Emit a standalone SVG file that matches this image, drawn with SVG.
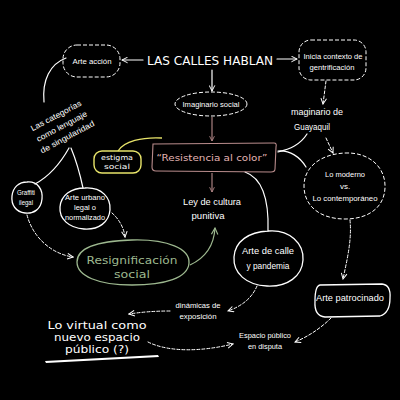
<svg xmlns="http://www.w3.org/2000/svg" width="400" height="400" viewBox="0 0 400 400">
<defs>
<style>
.t{font-family:"Liberation Sans",Arial,sans-serif;fill:#fff;text-anchor:middle}
.h{font-family:"DejaVu Sans","Liberation Sans",sans-serif;text-anchor:middle}
.w{fill:none;stroke:#fff;stroke-width:1.2;stroke-linecap:round}
.d{fill:none;stroke:#fff;stroke-width:1;stroke-dasharray:3 2;stroke-linecap:round}
.n{fill:none;stroke:#fff;stroke-width:1.3}
.nd{fill:none;stroke:#fff;stroke-width:1;stroke-dasharray:4 2}
.p{fill:none;stroke:#b98c8c;stroke-width:1.1}
</style>
<marker id="aw" viewBox="0 0 10 10" refX="9" refY="5" markerWidth="7" markerHeight="7" markerUnits="userSpaceOnUse" orient="auto"><path d="M1,1 L9,5 L1,9" fill="none" stroke="#fff" stroke-width="1.4"/></marker>
<marker id="ap" viewBox="0 0 10 10" refX="9" refY="5" markerWidth="6" markerHeight="6" markerUnits="userSpaceOnUse" orient="auto"><path d="M1,1 L9,5 L1,9" fill="none" stroke="#b98c8c" stroke-width="1.4"/></marker>
<marker id="ag" viewBox="0 0 10 10" refX="9" refY="5" markerWidth="8" markerHeight="8" markerUnits="userSpaceOnUse" orient="auto"><path d="M1,1 L9,5 L1,9" fill="none" stroke="#9db88f" stroke-width="1.4"/></marker>
</defs>
<rect width="400" height="400" fill="#000"/>

<g id="connectors">
<path class="w" d="M143,60 L122,60" stroke-width="1.4" marker-end="url(#aw)"/>
<path class="w" d="M277,59 L297,59" stroke-width="1.4" marker-end="url(#aw)"/>
<path class="w" d="M212,70 L212,91" stroke-width="1.3" marker-end="url(#aw)"/>
<path class="d" d="M326,81 L323,104" marker-end="url(#aw)"/>
<path class="p" d="M212,117 L212,141" marker-end="url(#ap)"/>
<path class="p" d="M212,173 L212,192" marker-end="url(#ap)"/>
<path fill="none" stroke="#e8e46a" stroke-width="1.3" d="M118,151 C124,141 142,137 162,138"/>
<path class="w" d="M307,134 C300,145 290,149 278,152"/>
<path class="w" d="M278,151 C290,150 300,157 306,167"/>
<path class="d" d="M326,138 L333,153" marker-end="url(#aw)"/>
<path class="d" d="M350,220 C352,240 347,260 343,279" marker-end="url(#aw)"/>
<path class="d" d="M331,318 C320,329 307,337 295,342" marker-end="url(#aw)"/>
<path class="w" d="M245,172 C262,178 269,200 268,231"/>
<path class="d" d="M257,286 C252,298 242,306 228,311" marker-end="url(#aw)"/>
<path class="d" d="M170,311 C155,311 142,312 129,314" marker-end="url(#aw)"/>
<path class="d" d="M148,342 C168,352 200,352 233,344" marker-end="url(#aw)"/>
<path class="w" d="M66,58 C50,64 42,80 44,102"/>
<path class="w" d="M69,148 C60,164 48,177 35,184"/>
<path class="w" d="M71,148 C76,160 80,174 83,188"/>
<path class="d" d="M27,215 C33,238 52,254 73,257" marker-end="url(#aw)"/>
<path class="d" d="M112,213 C119,219 124,228 125,237" marker-end="url(#aw)"/>
<path fill="none" stroke="#9db88f" stroke-width="1.2" d="M190,265 C205,258 214,246 215,228" marker-end="url(#ag)"/>
</g>

<g id="title"><text class="h" x="210" y="65" font-size="13" fill="#fff" textLength="126" lengthAdjust="spacingAndGlyphs">LAS CALLES HABLAN</text></g>

<g id="arte-accion">
<rect class="nd" x="63" y="45" width="57" height="32" rx="14"/>
<text class="t" x="92" y="64" font-size="8" textLength="39" lengthAdjust="spacingAndGlyphs">Arte acción</text>
</g>

<g id="inicia">
<rect class="nd" x="299" y="40" width="67" height="40" rx="12"/>
<text class="t" x="333" y="59" font-size="7" textLength="59" lengthAdjust="spacingAndGlyphs">Inicia contexto de</text>
<text class="t" x="332" y="70" font-size="7" textLength="45" lengthAdjust="spacingAndGlyphs">gentrificación</text>
</g>

<g id="imaginario-social">
<ellipse class="nd" cx="211" cy="104" rx="36" ry="12"/>
<text class="t" x="211" y="107" font-size="7" textLength="57" lengthAdjust="spacingAndGlyphs">Imaginario social</text>
</g>

<g id="imaginario-guayaquil">
<text class="t" x="317" y="115" font-size="9.5" textLength="52" lengthAdjust="spacingAndGlyphs">maginario de</text>
<text class="t" x="312" y="130" font-size="9.5" textLength="36" lengthAdjust="spacingAndGlyphs">Guayaquil</text>
</g>

<g id="resistencia">
<path class="p" d="M153,144 L274,143 Q277,143 276,147 L275,169 Q275,172 271,172 L156,171 Q152,171 152,167 Z"/>
<text class="h" x="212" y="161" font-size="8.5" fill="#e3b4b4" textLength="111" lengthAdjust="spacingAndGlyphs">“Resistencia al color”</text>
</g>

<g id="estigma">
<rect x="94" y="151" width="47" height="22" rx="8" fill="none" stroke="#e8e46a" stroke-width="1.4"/>
<text class="h" x="117" y="160" font-size="7" fill="#fff" textLength="32" lengthAdjust="spacingAndGlyphs">estigma</text>
<text class="h" x="117" y="169" font-size="7" fill="#fff" textLength="26" lengthAdjust="spacingAndGlyphs">social</text>
</g>

<g id="ley">
<text class="t" x="212" y="205" font-size="9.5" textLength="58" lengthAdjust="spacingAndGlyphs">Ley de cultura</text>
<text class="t" x="208" y="219" font-size="9.5" textLength="33" lengthAdjust="spacingAndGlyphs">punitiva</text>
</g>

<g id="lo-moderno">
<path class="nd" d="M345,153 C370,152 386,168 385,188 C384,208 368,219 345,219 C320,219 304,206 304,186 C304,166 322,154 345,153 Z"/>
<text class="t" x="345" y="177" font-size="8" textLength="40" lengthAdjust="spacingAndGlyphs">Lo moderno</text>
<text class="t" x="345" y="189" font-size="8">vs.</text>
<text class="t" x="345" y="201" font-size="8" textLength="65" lengthAdjust="spacingAndGlyphs">Lo contemporáneo</text>
</g>

<g id="arte-calle">
<path class="n" d="M268,231 C290,229 304,244 303,260 C302,276 288,287 267,286 C246,285 233,273 234,257 C235,241 249,232 268,231 Z"/>
<text class="t" x="268" y="254" font-size="9.5" textLength="52" lengthAdjust="spacingAndGlyphs">Arte de calle</text>
<text class="t" x="268" y="269" font-size="9.5" textLength="43" lengthAdjust="spacingAndGlyphs">y pandemia</text>
</g>

<g id="arte-patrocinado">
<path class="n" d="M320,285 L382,284 Q391,285 390,298 Q390,313 380,316 L325,317 Q314,316 315,301 Q315,286 320,285 Z"/>
<text class="t" x="350" y="301" font-size="9.5" textLength="68" lengthAdjust="spacingAndGlyphs">Arte patrocinado</text>
</g>

<g id="espacio-publico">
<text class="t" x="265" y="338" font-size="7.5" textLength="52" lengthAdjust="spacingAndGlyphs">Espacio público</text>
<text class="t" x="265" y="349" font-size="7.5" textLength="34" lengthAdjust="spacingAndGlyphs">en disputa</text>
</g>

<g id="dinamicas">
<text class="t" x="198" y="308" font-size="7.5" textLength="45" lengthAdjust="spacingAndGlyphs">dinámicas de</text>
<text class="t" x="198" y="319" font-size="7.5" textLength="37" lengthAdjust="spacingAndGlyphs">exposición</text>
</g>

<g id="lo-virtual">
<text class="h" x="97" y="329" font-size="10" fill="#fff" textLength="99" lengthAdjust="spacingAndGlyphs">Lo virtual como</text>
<text class="h" x="97" y="341" font-size="10" fill="#fff" textLength="86" lengthAdjust="spacingAndGlyphs">nuevo espacio</text>
<text class="h" x="97" y="353" font-size="10" fill="#fff" textLength="64" lengthAdjust="spacingAndGlyphs">público (?)</text>
<path d="M45,361 L158,355 L159,357 L46,363 Z" fill="#fff"/>
</g>

<g id="categorias" transform="rotate(-28 62 127)">
<text class="t" x="62" y="117" font-size="8" textLength="56" lengthAdjust="spacingAndGlyphs">Las categorías</text>
<text class="t" x="62" y="129" font-size="8" textLength="56" lengthAdjust="spacingAndGlyphs">como lenguaje</text>
<text class="t" x="62" y="141" font-size="8" textLength="60" lengthAdjust="spacingAndGlyphs">de singularidad</text>
</g>

<g id="graffiti">
<path class="n" d="M27,182 C38,181 43,190 42,199 C41,209 34,214 25,213 C16,212 11,205 12,196 C13,187 19,182 27,182 Z"/>
<text class="t" x="26" y="195" font-size="7" textLength="18" lengthAdjust="spacingAndGlyphs">Graffiti</text>
<text class="t" x="26" y="205" font-size="7" textLength="14" lengthAdjust="spacingAndGlyphs">ilegal</text>
</g>

<g id="arte-urbano">
<path class="n" d="M85,188 C102,187 111,198 110,210 C109,222 99,230 84,229 C69,228 59,219 60,207 C61,195 71,188 85,188 Z"/>
<text class="t" x="85" y="200" font-size="7" textLength="40" lengthAdjust="spacingAndGlyphs">Arte urbano</text>
<text class="t" x="85" y="210" font-size="7" textLength="22" lengthAdjust="spacingAndGlyphs">legal o</text>
<text class="t" x="85" y="220" font-size="7" textLength="40" lengthAdjust="spacingAndGlyphs">normalizado</text>
</g>

<g id="resignificacion">
<path fill="none" stroke="#9db88f" stroke-width="1.3" d="M132,240 C168,239 190,249 189,263 C188,278 165,285 132,285 C98,285 77,276 77,262 C77,248 98,241 132,240 Z"/>
<text class="h" x="132" y="264" font-size="10.5" fill="#9db88f" textLength="91" lengthAdjust="spacingAndGlyphs">Resignificación</text>
<text class="h" x="132" y="278" font-size="10.5" fill="#9db88f" textLength="36" lengthAdjust="spacingAndGlyphs">social</text>
</g>
</svg>
